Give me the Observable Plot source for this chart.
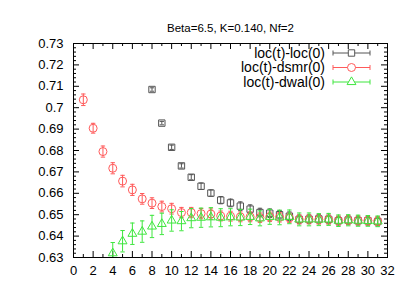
<!DOCTYPE html>
<html><head><meta charset="utf-8">
<script src="https://cdn.jsdelivr.net/npm/d3@7"></script>
<script src="https://cdn.jsdelivr.net/npm/@observablehq/plot@0.6"></script>
<style>body{margin:0;background:#fff;} svg{font-family:"Liberation Sans",Arial,sans-serif;}</style>
</head><body><div id="chart"></div>
<script>
const title = "Beta=6.5, K=0.140, Nf=2";
const seriesNames = ["loc(t)-loc(0)", "loc(t)-dsmr(0)", "loc(t)-dwal(0)"];

const tLoc = [8,9,10,11,12,13,14,15,16,17,18,19,20,21,22,23,24,25,26,27,28,29,30,31];
const loc = [0.7085,0.6928,0.6815,0.6728,0.6675,0.6633,0.6601,0.6568,0.6555,0.6540,0.6526,0.6510,0.6507,0.6500,0.6493,0.6478,0.6479,0.6480,0.6478,0.6472,0.6475,0.6472,0.6472,0.6468];
const locErr = [0.0008,0.0008,0.001,0.001,0.0012,0.0015,0.0015,0.0017,0.0018,0.002,0.002,0.002,0.002,0.002,0.002,0.002,0.002,0.002,0.002,0.002,0.002,0.002,0.002,0.002];

const tDsmr = [1,2,3,4,5,6,7,8,9,10,11,12,13,14,15,16,17,18,19,20,21,22,23,24,25,26,27,28,29,30,31];
const dsmr = [0.7037,0.6904,0.6795,0.6717,0.6657,0.6616,0.6574,0.6554,0.6538,0.6528,0.6510,0.6510,0.6505,0.6503,0.6494,0.6493,0.6490,0.6490,0.6486,0.6490,0.6488,0.6485,0.6478,0.6478,0.6477,0.6477,0.6473,0.6474,0.6473,0.6472,0.6470];
const dsmrErr = [0.0027,0.0023,0.0026,0.0026,0.0027,0.0026,0.0025,0.0025,0.0025,0.0025,0.0024,0.0024,0.0024,0.0024,0.0023,0.0023,0.0023,0.0023,0.0022,0.0022,0.0022,0.0022,0.0021,0.0021,0.0021,0.0021,0.0021,0.0021,0.0021,0.0021,0.0021];

const tDwal = [4,5,6,7,8,9,10,11,12,13,14,15,16,17,18,19,20,21,22,23,24,25,26,27,28,29,30,31];
const dwal = [0.6320,0.6376,0.6411,0.6421,0.6445,0.6457,0.6473,0.6470,0.6484,0.6486,0.6488,0.6486,0.6488,0.6487,0.6490,0.6483,0.6490,0.6487,0.6490,0.6478,0.6478,0.6477,0.6478,0.6472,0.6474,0.6472,0.6471,0.6469];
const dwalErr = [0.005,0.005,0.005,0.005,0.0052,0.005,0.005,0.0045,0.0045,0.0045,0.0045,0.0042,0.004,0.0038,0.0036,0.0035,0.0035,0.0034,0.0032,0.003,0.003,0.0028,0.0028,0.0027,0.0026,0.0026,0.0025,0.0025];

const xTicks = [0,2,4,6,8,10,12,14,16,18,20,22,24,26,28,30,32];
const xMinor = [1,3,5,7,9,11,13,15,17,19,21,23,25,27,29,31];
const yTicks = [0.63,0.64,0.65,0.66,0.67,0.68,0.69,0.70,0.71,0.72,0.73];
const yMinor = d3.range(0, 51).map(i => 0.63 + i*0.002).filter(v => Math.round(v*1000) % 10 !== 0);

const colors = ["#555555", "#ff5a5a", "#3ee63e"];
const symbols = ["square", "circle", "triangle"];
const radii = [3.6, 4, 3.3];

function build(ts, vs, es) { return ts.map((t,i) => ({t, v: vs[i], e: es[i]})); }
const sets = [build(tLoc, loc, locErr), build(tDsmr, dsmr, dsmrErr), build(tDwal, dwal, dwalErr)];

const capSym = { draw(ctx, size) { const r = Math.sqrt(size/Math.PI); ctx.moveTo(-r,0); ctx.lineTo(r,0); } };

const W = 409, H = 286, mL = 73, mR = 22, mT = 43, mB = 29;
const fw = W - mL - mR, fh = H - mT - mB;

const marks = [];
marks.push(Plot.ruleX(xTicks, {x: d=>d, insetTop: fh-6, stroke: "black"}));
marks.push(Plot.ruleX(xTicks, {x: d=>d, insetBottom: fh-6, stroke: "black"}));
marks.push(Plot.ruleX(xMinor, {x: d=>d, insetTop: fh-3, stroke: "black"}));
marks.push(Plot.ruleX(xMinor, {x: d=>d, insetBottom: fh-3, stroke: "black"}));
marks.push(Plot.ruleY(yTicks, {y: d=>d, insetRight: fw-6, stroke: "black"}));
marks.push(Plot.ruleY(yTicks, {y: d=>d, insetLeft: fw-6, stroke: "black"}));
marks.push(Plot.ruleY(yMinor, {y: d=>d, insetRight: fw-3, stroke: "black"}));
marks.push(Plot.ruleY(yMinor, {y: d=>d, insetLeft: fw-3, stroke: "black"}));

sets.forEach((data, k) => {
  const c = colors[k];
  marks.push(Plot.ruleX(data, {x: "t", y1: d=>d.v-d.e, y2: d=>d.v+d.e, stroke: c, strokeWidth: 1, clip: true}));
  marks.push(Plot.dot(data, {x: "t", y: d=>d.v-d.e, symbol: capSym, r: 2.2, stroke: c, strokeWidth: 1, clip: true}));
  marks.push(Plot.dot(data, {x: "t", y: d=>d.v+d.e, symbol: capSym, r: 2.2, stroke: c, strokeWidth: 1, clip: true}));
  marks.push(Plot.dot(data, {x: "t", y: "v", symbol: symbols[k], r: radii[k], fill: "none", stroke: c, strokeWidth: 1, clip: true}));
});

marks.push(Plot.frame({stroke: "black"}));
marks.push(Plot.axisX({ticks: xTicks, tickSize: 0, tickPadding: 8, tickFormat: d => String(d), fontSize: 13, label: null}));
marks.push(Plot.axisY({ticks: yTicks, tickSize: 0, tickPadding: 10, tickFormat: d => String(+d.toFixed(2)), fontSize: 13, label: null}));
marks.push(Plot.text([title], {frameAnchor: "top", dy: -20, text: d=>d, fontSize: 11.5, fill: "black"}));

const chart = Plot.plot({
  width: W, height: H, marginLeft: mL, marginRight: mR, marginTop: mT, marginBottom: mB,
  x: {domain: [0, 32], label: null},
  y: {domain: [0.63, 0.73], label: null},
  style: {fontFamily: "'Liberation Sans', Arial, sans-serif", color: "black", background: "white"},
  marks
});

const svg = d3.select(chart);
const lg = svg.append("g");
const symPaths = {square: d3.symbolSquare, circle: d3.symbolCircle, triangle: d3.symbolTriangle};
seriesNames.forEach((name, k) => {
  const y = mT + 10 + k*14.5;
  const xr = W - mR - 62;
  lg.append("text").attr("x", xr).attr("y", y).attr("dy", "0.35em").attr("text-anchor", "end")
    .attr("font-size", 14).attr("fill", "black").text(name);
  const x1 = W - mR - 54, x2 = W - mR - 17, xm = (x1+x2)/2;
  lg.append("line").attr("x1", x1).attr("x2", x2).attr("y1", y).attr("y2", y).attr("stroke", colors[k]);
  [x1, x2].forEach(xx => lg.append("line").attr("x1", xx).attr("x2", xx).attr("y1", y-2.5).attr("y2", y+2.5).attr("stroke", colors[k]));
  const r = radii[k];
  const sym = d3.symbol(symPaths[symbols[k]], Math.PI*r*r)();
  lg.append("path").attr("d", sym).attr("transform", `translate(${xm},${y})`).attr("fill", "white").attr("stroke", colors[k]);
});

document.getElementById("chart").appendChild(chart);
</script></body></html>
